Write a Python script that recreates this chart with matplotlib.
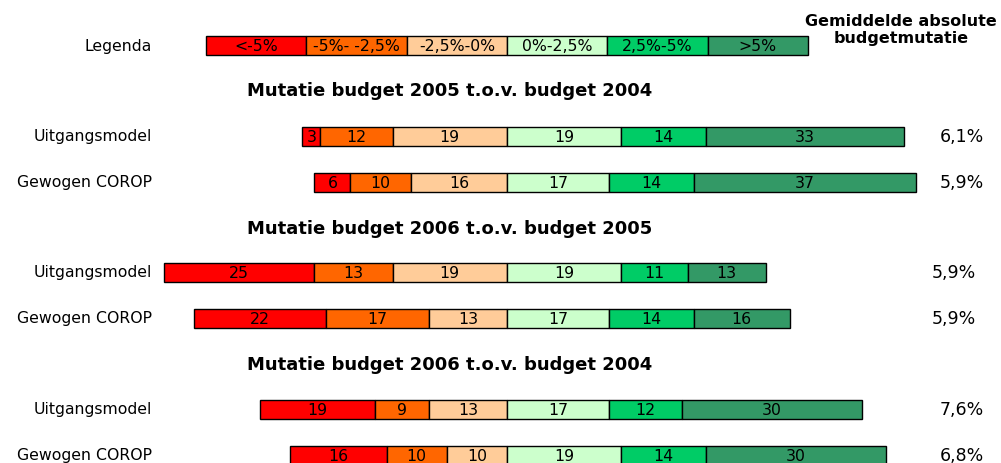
import matplotlib.pyplot as plt
import numpy as np
from matplotlib.transforms import blended_transform_factory

# legend classes and colours
classes = ["<-5%", "-5%- -2,5%", "-2,5%-0%", "0%-2,5%", "2,5%-5%", ">5%"]
colors = ["#FF0000", "#FF6600", "#FFCC99", "#CCFFCC", "#00CC66", "#339966"]

titles = ["Mutatie budget 2005 t.o.v. budget 2004",
          "Mutatie budget 2006 t.o.v. budget 2005",
          "Mutatie budget 2006 t.o.v. budget 2004"]
models = ["Uitgangsmodel", "Gewogen COROP"]

# percentage of regions per class (first three below zero)
uitgang_0504 = [3, 12, 19, 19, 14, 33]
corop_0504 = [6, 10, 16, 17, 14, 37]
uitgang_0605 = [25, 13, 19, 19, 11, 13]
corop_0605 = [22, 17, 13, 17, 14, 16]
uitgang_0604 = [19, 9, 13, 17, 12, 30]
corop_0604 = [16, 10, 10, 19, 14, 30]

avg_mutatie = ["6,1%", "5,9%", "5,9%", "5,9%", "7,6%", "6,8%"]

rows = [uitgang_0504, corop_0504, uitgang_0605, corop_0605, uitgang_0604, corop_0604]

# layout (vertical positions in pixels from top)
legend_y = 46
title_y = [91, 229, 365]
row_y = [137, 183, 273, 319, 410, 456]
avg_x = [0.983, 0.983, 0.975, 0.975, 0.983, 0.983]
bar_h = 19

fig = plt.figure(figsize=(10.01, 4.64), dpi=100)
ax = fig.add_axes([0, 0, 1, 1])
ax.set_xlim(-507 / 6.02, (1001 - 507) / 6.02)
ax.set_ylim(464, 0)
ax.axis("off")
lab = blended_transform_factory(ax.transAxes, ax.transData)

fs = 11.3

# legend bar: six equal blocks centred on zero
w = 100 / len(classes)
lefts = -50 + w * np.arange(len(classes))
ax.barh(legend_y, w, left=lefts, height=bar_h, color=colors, edgecolor="black", linewidth=1)
for l, c in zip(lefts, classes):
    ax.text(l + w / 2, legend_y + 0.5, c, ha="center", va="center", fontsize=fs)
ax.text(0.152, legend_y, "Legenda", transform=lab, ha="right", va="center", fontsize=fs)

ax.text(0.9, 30, "Gemiddelde absolute\nbudgetmutatie", transform=lab, ha="center",
        va="center", fontsize=11.5, fontweight="bold", linespacing=1.25)

for t, y in zip(titles, title_y):
    ax.text(0.449, y, t, transform=lab, ha="center", va="center", fontsize=13, fontweight="bold")

for i, vals in enumerate(rows):
    vals = np.array(vals, dtype=float)
    y = row_y[i]
    start = -vals[:3].sum()
    lefts = start + np.concatenate([[0], np.cumsum(vals)[:-1]])
    ax.barh(y, vals, left=lefts, height=bar_h, color=colors, edgecolor="black", linewidth=1)
    for l, v in zip(lefts, vals):
        ax.text(l + v / 2, y + 1, f"{int(v)}", ha="center", va="center", fontsize=fs)
    ax.text(0.152, y, models[i % 2], transform=lab, ha="right", va="center", fontsize=fs)
    ax.text(avg_x[i], y, avg_mutatie[i], transform=lab, ha="right", va="center", fontsize=12.5)

fig.savefig("out.png", dpi=100)
